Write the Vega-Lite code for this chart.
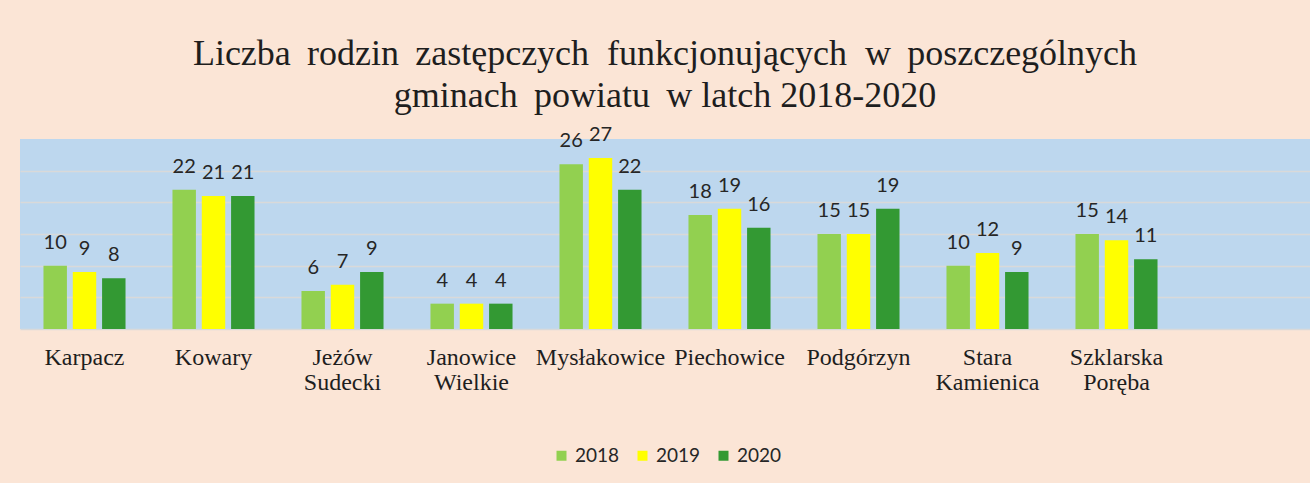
{
  "$schema": "https://vega.github.io/schema/vega-lite/v6.json",
  "autosize": "none",
  "width": 1290,
  "height": 190,
  "padding": {"left": 20, "top": 139, "right": 0, "bottom": 154},
  "background": "#FBE5D6",
  "title": {
    "text": ["Liczba\u2009 rodzin\u2009 zastępczych\u00a0 funkcjonujących\u00a0 w\u2009 poszczególnych", "gminach\u2009 powiatu\u2009 w latch 2018-2020"],
    "font": "Liberation Serif",
    "fontSize": 36,
    "fontWeight": "normal",
    "color": "#1e1e1e",
    "anchor": "middle",
    "lineHeight": 42,
    "offset": 10
  },
  "data": {
    "values": [
      {"gmina": "Karpacz", "rok": "2018", "liczba": 10},
      {"gmina": "Karpacz", "rok": "2019", "liczba": 9},
      {"gmina": "Karpacz", "rok": "2020", "liczba": 8},
      {"gmina": "Kowary", "rok": "2018", "liczba": 22},
      {"gmina": "Kowary", "rok": "2019", "liczba": 21},
      {"gmina": "Kowary", "rok": "2020", "liczba": 21},
      {"gmina": "Jeżów Sudecki", "rok": "2018", "liczba": 6},
      {"gmina": "Jeżów Sudecki", "rok": "2019", "liczba": 7},
      {"gmina": "Jeżów Sudecki", "rok": "2020", "liczba": 9},
      {"gmina": "Janowice Wielkie", "rok": "2018", "liczba": 4},
      {"gmina": "Janowice Wielkie", "rok": "2019", "liczba": 4},
      {"gmina": "Janowice Wielkie", "rok": "2020", "liczba": 4},
      {"gmina": "Mysłakowice", "rok": "2018", "liczba": 26},
      {"gmina": "Mysłakowice", "rok": "2019", "liczba": 27},
      {"gmina": "Mysłakowice", "rok": "2020", "liczba": 22},
      {"gmina": "Piechowice", "rok": "2018", "liczba": 18},
      {"gmina": "Piechowice", "rok": "2019", "liczba": 19},
      {"gmina": "Piechowice", "rok": "2020", "liczba": 16},
      {"gmina": "Podgórzyn", "rok": "2018", "liczba": 15},
      {"gmina": "Podgórzyn", "rok": "2019", "liczba": 15},
      {"gmina": "Podgórzyn", "rok": "2020", "liczba": 19},
      {"gmina": "Stara Kamienica", "rok": "2018", "liczba": 10},
      {"gmina": "Stara Kamienica", "rok": "2019", "liczba": 12},
      {"gmina": "Stara Kamienica", "rok": "2020", "liczba": 9},
      {"gmina": "Szklarska Poręba", "rok": "2018", "liczba": 15},
      {"gmina": "Szklarska Poręba", "rok": "2019", "liczba": 14},
      {"gmina": "Szklarska Poręba", "rok": "2020", "liczba": 11}
    ]
  },
  "encoding": {
    "x": {
      "field": "gmina",
      "type": "nominal",
      "sort": null,
      "title": null,
      "scale": {
        "domain": ["Karpacz", "Kowary", "Jeżów Sudecki", "Janowice Wielkie", "Mysłakowice", "Piechowice", "Podgórzyn", "Stara Kamienica", "Szklarska Poręba", " "],
        "paddingInner": 0.364,
        "paddingOuter": 0.182
      },
      "axis": {
        "labelAngle": 0,
        "labelExpr": "split(datum.label, ' ')",
        "labelFont": "Liberation Serif",
        "labelFontSize": 24,
        "labelColor": "#1e1e1e",
        "labelLineHeight": 25,
        "labelPadding": 16,
        "ticks": false,
        "domainColor": "#D9D9D9",
        "domainWidth": 1.5,
        "labelLimit": 300
      }
    },
    "xOffset": {
      "field": "rok",
      "type": "nominal",
      "scale": {"paddingInner": 0.2, "paddingOuter": 0}
    },
    "y": {
      "field": "liczba",
      "type": "quantitative",
      "title": null,
      "scale": {"domain": [0, 30], "nice": false},
      "axis": {
        "values": [5, 10, 15, 20, 25],
        "labels": false,
        "ticks": false,
        "domain": false,
        "grid": true,
        "gridColor": "#D9D9D9",
        "gridWidth": 1.5
      }
    }
  },
  "layer": [
    {
      "mark": {"type": "bar"},
      "encoding": {
        "color": {
          "field": "rok",
          "type": "nominal",
          "scale": {"domain": ["2018", "2019", "2020"], "range": ["#92D050", "#FFFF00", "#339933"]},
          "legend": {
            "title": null,
            "orient": "none",
            "direction": "horizontal",
            "legendX": 532,
            "legendY": 307,
            "symbolType": "square",
            "symbolSize": 100,
            "symbolStrokeWidth": 0,
            "labelFont": "Lato",
            "labelFontSize": 19,
            "labelColor": "#262626",
            "labelOffset": 4,
            "columnPadding": 13,
            "padding": 0
          }
        }
      }
    },
    {
      "mark": {"type": "text", "baseline": "alphabetic", "dy": -17, "font": "Lato", "fontSize": 20, "color": "#262626"},
      "encoding": {
        "text": {"field": "liczba", "type": "quantitative"}
      }
    }
  ],
  "config": {
    "view": {"fill": "#BDD7EE", "stroke": null}
  }
}
